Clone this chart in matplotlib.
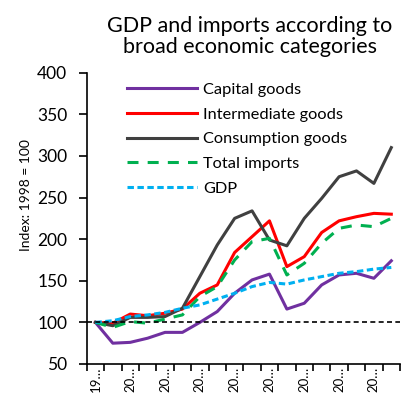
import matplotlib
matplotlib.use("Agg")
import matplotlib.pyplot as plt
import numpy as np

plt.rcParams["font.family"] = ["Lato", "DejaVu Sans"]

years = list(range(1998, 2016))
capital = [100, 75, 76, 81, 88, 88, 100, 113, 135, 151, 158, 116, 123, 145, 157, 159, 153, 174]
intermediate = [100, 99, 110, 108, 111, 116, 135, 145, 184, 203, 222, 167, 179, 208, 222, 227, 231, 230]
consumption = [100, 96, 106, 106, 107, 117, 155, 193, 225, 234, 199, 192, 225, 249, 275, 282, 267, 310]
total_imports = [100, 94, 101, 99, 104, 109, 131, 143, 175, 197, 201, 157, 171, 195, 213, 217, 215, 225]
gdp = [100, 102, 107, 109, 112, 117, 121, 128, 135, 143, 148, 146, 151, 155, 159, 161, 164, 166]

W, H = 403, 395
fig = plt.figure(figsize=(W / 100, H / 100), dpi=100)
left, right, top, bottom = 86.7, 400, 72.7, 364
ax = fig.add_axes([left / W, 1 - bottom / H, (right - left) / W, (bottom - top) / H])

x = np.arange(len(years))
ax.plot(x, capital, color="#7030a0", lw=2.2, label="Capital goods")
ax.plot(x, intermediate, color="#ff0000", lw=2.2, label="Intermediate goods")
ax.plot(x, consumption, color="#404040", lw=2.2, label="Consumption goods")
ax.plot(x, total_imports, color="#00b050", lw=2.2, ls=(0, (3.6, 3.0)), label="Total imports")
ax.plot(x, gdp, color="#00b0f0", lw=2.2, ls=(0, (2.1, 1.15)), label="GDP")
ax.axhline(100, color="black", lw=1.2, ls=(0, (3, 2)))

ax.set_xlim(-0.5, len(years) - 0.5)
ax.set_ylim(50, 400)
ax.set_yticks(range(50, 401, 50))
ax.set_xticks(x[::2])
ax.set_xticklabels([str(y)[:2] + "…" for y in years[::2]], rotation=90, va="top")
ax.set_xticks(np.arange(-0.5, len(years)), minor=True)
ax.tick_params(axis="x", which="major", length=0, labelsize=9.5, pad=2)
ax.tick_params(axis="x", which="minor", length=5, width=1.2)
ax.tick_params(axis="y", length=6, width=1.2, labelsize=12.5, pad=8)
for s in ["top", "right"]:
    ax.spines[s].set_visible(False)
for s in ["left", "bottom"]:
    ax.spines[s].set_linewidth(1.2)
ax.set_ylabel("Index: 1998 = 100", fontsize=10)
ax.yaxis.set_label_coords(-0.175, 0.58)

ax.legend(loc="upper left", bbox_to_anchor=((127 - left) / (right - left), 0.967),
          frameon=False, fontsize=11.8, borderpad=0, borderaxespad=0,
          handlelength=4.27, handletextpad=0.37, labelspacing=0.63)

fig.text(250 / W, 1 - 16 / H, "GDP and imports according to\nbroad economic categories",
         ha="center", va="top", fontsize=15.5, linespacing=1.05)

fig.savefig("out.png", dpi=100)
